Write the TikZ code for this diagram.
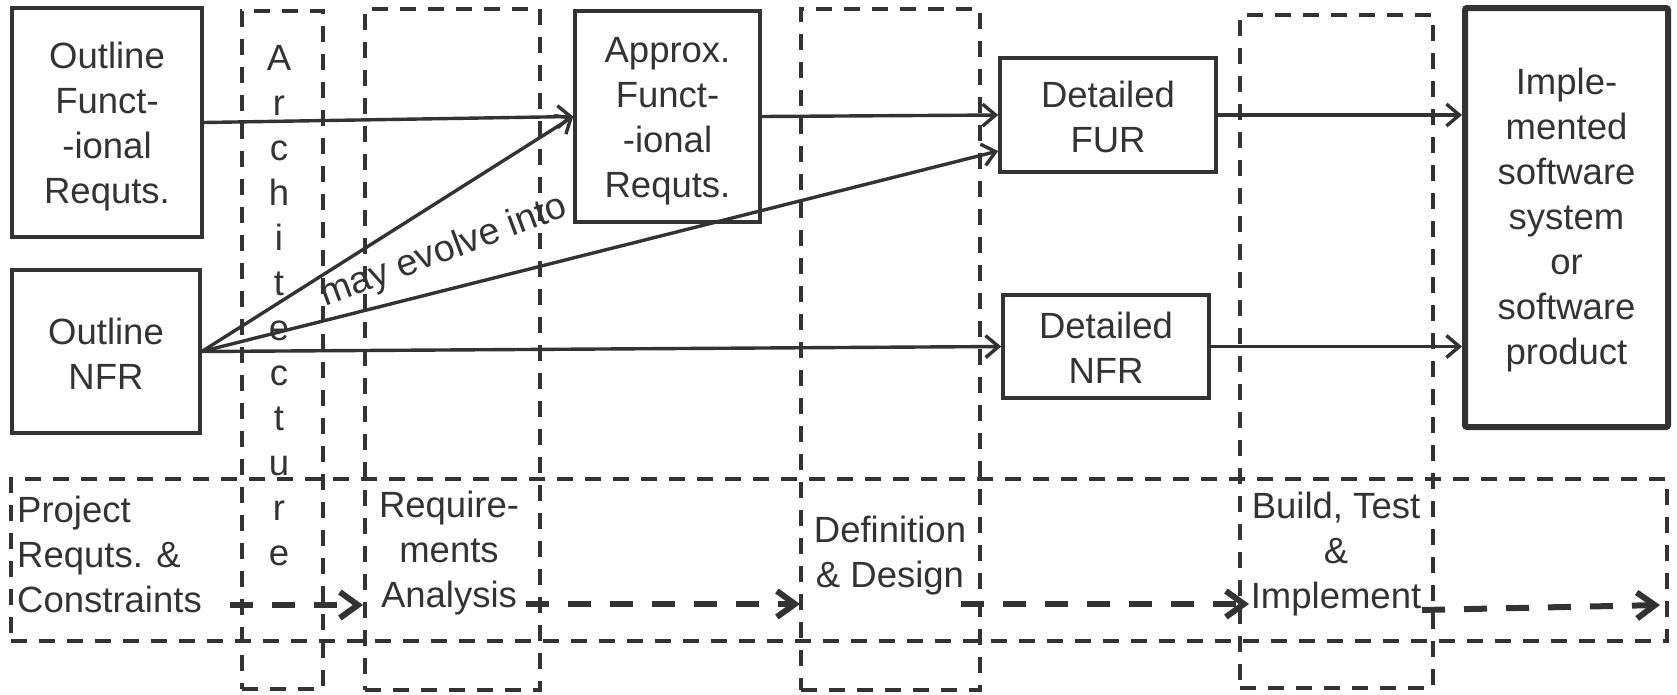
\documentclass[tikz,border=0pt]{standalone}
\usepackage{fontspec}
\setmainfont{Liberation Sans}
\usetikzlibrary{arrows.meta}
\definecolor{ink}{HTML}{333333}
\begin{document}
\begin{tikzpicture}[x=1pt,y=-1pt,
  every node/.style={text=ink, font=\fontsize{36.5}{45}\selectfont, inner sep=0pt},
  box/.style={draw=ink, line width=3.6pt},
  bigbox/.style={draw=ink, line width=6pt, rounded corners=2pt},
  phase/.style={draw=ink, line width=3.2pt, dash pattern=on 16pt off 12pt},
  flow/.style={draw=ink, line width=3.4pt, -{Straight Barb[length=13pt,width=22pt]}},
  stage/.style={draw=ink, line width=6pt, dash pattern=on 23pt off 19pt, -{Straight Barb[length=18pt,width=26pt]}},
  lbl/.style={align=center}]
\useasboundingbox (0,0) rectangle (1677,694);
% dashed phase columns and band
\node[phase, minimum width=81pt, minimum height=678pt] (arch) at (282.5,350) {};
\node[phase, minimum width=175pt, minimum height=681pt] (req) at (452.5,349.5) {};
\node[phase, minimum width=179pt, minimum height=681pt] (def) at (890.5,349.5) {};
\node[phase, minimum width=193pt, minimum height=673pt] (build) at (1336.5,351.5) {};
\node[phase, minimum width=1656pt, minimum height=162pt] (band) at (839,560) {};
% solid boxes
\node[box, minimum width=190pt, minimum height=229pt] (ofr) at (107,122.5) {};
\node[box, minimum width=188pt, minimum height=163pt] (onfr) at (106,351.5) {};
\node[box, minimum width=185pt, minimum height=211pt] (approx) at (667.5,116.5) {};
\node[box, minimum width=216pt, minimum height=114pt] (dfur) at (1108,115) {};
\node[box, minimum width=206pt, minimum height=103pt] (dnfr) at (1106,346.5) {};
\node[bigbox, minimum width=203pt, minimum height=419pt] (impl) at (1566.5,217.5) {};
% box texts
\node[lbl] (ofrt) at ([yshift=-4pt]ofr.center) {Outline\\Funct-\\-ional\\Requts.};
\node[lbl] (onfrt) at ([yshift=-2pt]onfr.center) {Outline\\NFR};
\node[lbl] (approxt) at ([yshift=-5pt]approx.center) {Approx.\\Funct-\\-ional\\Requts.};
\node[lbl] (dfurt) at ([yshift=-2pt]dfur.center) {Detailed\\FUR};
\node[lbl] (dnfrt) at ([yshift=-1pt]dnfr.center) {Detailed\\NFR};
\node[lbl] (implt) at ([yshift=-3pt]impl.center) {Imple-\\mented\\software\\system\\or\\software\\product};
% labels
\node[lbl] (archlbl) at (279,306) {A\\r\\c\\h\\i\\t\\e\\c\\t\\u\\r\\e};
\node[lbl, anchor=west, align=left] (proj) at (17,554) {Project\\Requts. \&\\Constraints};
\node[lbl] (reqlbl) at (449,553) {Require-\\ments\\Analysis};
\node[lbl] (deflbl) at (890,556) {Definition\\\& Design};
\node[lbl] (buildlbl) at (1336,554) {Build, Test\\\&\\Implement};
\node[rotate=20.5, font=\fontsize{37.5}{45}\selectfont] (evolve) at (444,252) {may evolve into};
% connectors
\draw[flow] (ofr.east) -- (approx.west);
\draw[flow] (onfr.east) -- (approx.west);
\draw[flow] (onfr.east) -- ([yshift=-36pt]dfur.west);
\draw[flow] (onfr.east) -- (dnfr.west);
\draw[flow] (approx.east) -- (dfur.west);
\draw[flow] (dfur.east) -- (impl.west |- dfur.east);
\draw[flow] (dnfr.east) -- (impl.west |- dnfr.east);
% stage arrows
\coordinate (s1) at (230,605); \coordinate (t1) at (363,605);
\coordinate (s2) at (526,604); \coordinate (t2) at (800,604);
\coordinate (s3) at (961,604); \coordinate (t3) at (1249,604);
\coordinate (s4) at (1422,610); \coordinate (t4) at (1660,605);
\draw[stage] (s1) -- (t1);
\draw[stage] (s2) -- (t2);
\draw[stage] (s3) -- (t3);
\draw[stage] (s4) -- (t4);
\end{tikzpicture}
\end{document}
